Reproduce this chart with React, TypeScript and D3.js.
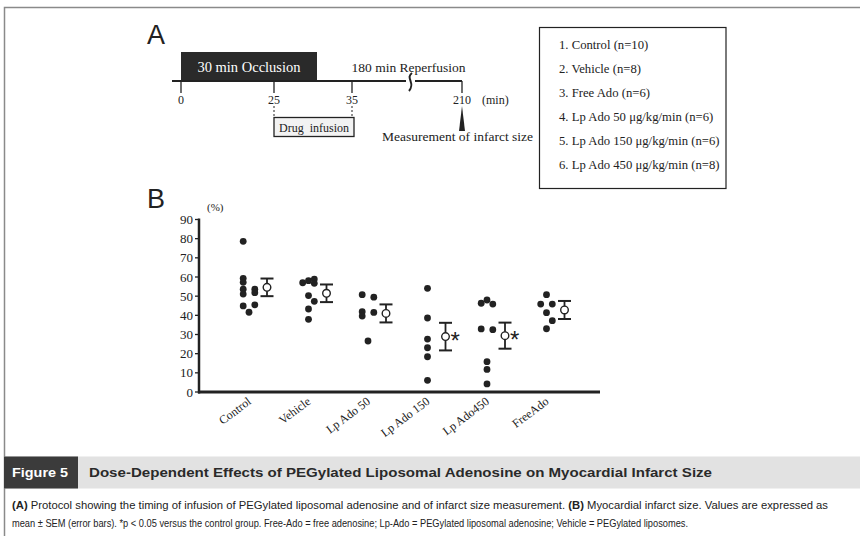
import React from "react";
import * as d3 from "d3";

// ---------- Data ----------
const groups = ["Control", "Vehicle", "Lp Ado 50", "Lp Ado 150", "Lp Ado450", "FreeAdo"];

const controlValues = [78.6, 59.3, 57.2, 53.6, 51.1, 44.9, 41.6, 53.6, 51.8, 45.5];
const controlCols = [-1, -1, -1, -1, -1, -1, 0, 1, 1, 1];
const vehicleValues = [57.0, 58.1, 58.9, 56.7, 50.3, 47.3, 43.3, 37.9];
const vehicleCols = [-1, 0, 1, 1, 0, 1, 0, 0];
const lp50Values = [50.8, 49.5, 41.9, 39.6, 41.5, 26.6];
const lp50Cols = [-1, 1, -1, -1, 1, 0];
const lp150Values = [54.1, 38.6, 27.6, 23.1, 18.4, 6.1];
const lp150Cols = [0, 0, 0, 0, 0, 0];
const lp450Values = [46.3, 48.0, 45.9, 32.9, 32.5, 15.8, 11.8, 4.2];
const lp450Cols = [-1, 0, 1, -1, 1, 0, 0, 0];
const freeAdoValues = [50.8, 45.9, 45.9, 41.4, 37.2, 33.0];
const freeAdoCols = [0, -1, 1, 0, 1, 0];

const groupValues = [controlValues, vehicleValues, lp50Values, lp150Values, lp450Values, freeAdoValues];
const groupCols = [controlCols, vehicleCols, lp50Cols, lp150Cols, lp450Cols, freeAdoCols];

const means = [54.6, 51.5, 41.0, 28.9, 29.4, 42.8];
const sems = [4.6, 4.6, 4.7, 7.2, 6.8, 4.7];
const significant = [false, false, false, true, true, false];

const yTicks = [0, 10, 20, 30, 40, 50, 60, 70, 80, 90];

const legendItems = [
  "1. Control (n=10)",
  "2. Vehicle (n=8)",
  "3. Free Ado (n=6)",
  "4. Lp Ado 50 \u03bcg/kg/min (n=6)",
  "5. Lp Ado 150 \u03bcg/kg/min (n=6)",
  "6. Lp Ado 450 \u03bcg/kg/min (n=8)",
];

const timeTicks = [0, 25, 35, 210];
const occlusionEnd = 30;
const infusionStart = 25;
const infusionEnd = 35;

const figureLabel = "Figure 5";
const figureTitle = "Dose-Dependent Effects of PEGylated Liposomal Adenosine on Myocardial Infarct Size";
const captionLine1 =
  "Protocol showing the timing of infusion of PEGylated liposomal adenosine and of infarct size measurement. ";
const captionLine1b = "Myocardial infarct size. Values are expressed as";
const captionLine2 =
  "mean \u00b1 SEM (error bars). *p < 0.05 versus the control group. Free-Ado = free adenosine; Lp-Ado = PEGylated liposomal adenosine; Vehicle = PEGylated liposomes.";

// ---------- Layout ----------
const W = 860;
const H = 536;
const serif = "'Liberation Serif', 'DejaVu Serif', serif";
const sans = "'Liberation Sans', Arial, sans-serif";
const ink = "#222";

export default function App() {
  // Panel B scales
  const y = d3.scaleLinear().domain([0, 90]).range([392, 219.5]);
  const x = d3.scalePoint<string>().domain(groups).range([249, 546.5]);
  const colStep = 5.8;
  const meanOffset = 18;

  // Panel A scale (broken time axis)
  const t = d3.scaleLinear().domain([0, 25, 35, 210]).range([181, 274, 352, 462]);
  const lineY = 81;

  return (
    <svg
      width={W}
      height={H}
      style={{ position: "absolute", left: 0, top: 0, background: "#fff" }}
      xmlns="http://www.w3.org/2000/svg"
    >
      <rect x={0} y={0} width={W} height={H} fill="#fff" />
      {/* outer frame */}
      <path d={`M4.5,${H} L4.5,7.5 L${W},7.5`} fill="none" stroke="#8a8a8a" strokeWidth={1.5} />

      {/* ---------------- Panel A ---------------- */}
      <text x={147} y={44} fontFamily={sans} fontSize={27} fill={ink}>A</text>
      <rect x={t(0)} y={52} width={t(occlusionEnd) - t(0) + 4} height={lineY - 52} fill="#2a2a2a" />
      <text x={(t(0) + t(occlusionEnd) + 4) / 2} y={72} textAnchor="middle" fontFamily={serif} fontSize={14.5} fill="#fff">
        30 min Occlusion
      </text>
      <line x1={172} x2={t(210)} y1={lineY} y2={lineY} stroke={ink} strokeWidth={2} />
      <text x={408.5} y={72} textAnchor="middle" fontFamily={serif} fontSize={13.5} fill={ink}>
        180 min Reperfusion
      </text>
      {/* break squiggle */}
      <rect x={406} y={77} width={9} height={8} fill="#fff" />
      <path d="M412,73 C405,78 416,83 409,91" fill="none" stroke={ink} strokeWidth={2} />
      {timeTicks.map((m) => (
        <g key={m}>
          <line x1={t(m)} x2={t(m)} y1={lineY} y2={93} stroke={ink} strokeWidth={1.3} />
          <text x={t(m)} y={104} textAnchor="middle" fontFamily={serif} fontSize={12} fill={ink}>
            {m}
          </text>
        </g>
      ))}
      <text x={482} y={104} fontFamily={serif} fontSize={12} fill={ink}>(min)</text>
      {[infusionStart, infusionEnd].map((m) => (
        <line key={m} x1={t(m)} x2={t(m)} y1={106} y2={117} stroke={ink} strokeWidth={1} strokeDasharray="2,2" />
      ))}
      <rect
        x={t(infusionStart)}
        y={117.5}
        width={t(infusionEnd) - t(infusionStart) + 2}
        height={19}
        fill="#f2f2f2"
        stroke={ink}
        strokeWidth={1.3}
      />
      <text x={(t(infusionStart) + t(infusionEnd) + 2) / 2} y={131.5} textAnchor="middle" fontFamily={serif} fontSize={12} fill={ink} style={{ whiteSpace: "pre" }}>
        {"Drug  infusion"}
      </text>
      <path d={`M${t(210)},106 L${t(210) - 3},131 L${t(210) + 3},131 Z`} fill={ink} />
      <text x={382} y={141} fontFamily={serif} fontSize={13.5} fill={ink}>Measurement of infarct size</text>

      {/* Legend box */}
      <rect x={539.5} y={27.5} width={186.5} height={161} fill="#fff" stroke={ink} strokeWidth={1.2} />
      {legendItems.map((s, i) => (
        <text key={s} x={559} y={48.5 + i * 24} fontFamily={serif} fontSize={12.7} fill={ink}>
          {s}
        </text>
      ))}

      {/* ---------------- Panel B ---------------- */}
      <text x={147} y={208} fontFamily={sans} fontSize={27} fill={ink}>B</text>
      <text x={207} y={211} fontFamily={serif} fontSize={11} fill={ink}>(%)</text>
      {/* y axis */}
      <line x1={199} x2={199} y1={y(90) - 1} y2={y(0) + 1.5} stroke={ink} strokeWidth={2.5} />
      {yTicks.map((v) => (
        <g key={v}>
          <line x1={195} x2={199} y1={y(v)} y2={y(v)} stroke={ink} strokeWidth={1.3} />
          <text x={193} y={y(v) + 4.5} textAnchor="end" fontFamily={serif} fontSize={13} fill={ink}>
            {v}
          </text>
        </g>
      ))}
      {/* x axis */}
      <line x1={198} x2={600} y1={y(0)} y2={y(0)} stroke={ink} strokeWidth={3} />
      {groups.map((g) => (
        <text
          key={g}
          transform={`translate(${(x(g) as number) + 3},${403}) rotate(-37)`}
          textAnchor="end"
          fontFamily={serif}
          fontSize={12}
          fill={ink}
        >
          {g}
        </text>
      ))}

      {/* individual points */}
      {groups.map((g, gi) =>
        groupValues[gi].map((v, i) => (
          <circle
            key={`${g}-${i}`}
            cx={(x(g) as number) + groupCols[gi][i] * colStep}
            cy={y(v)}
            r={3.4}
            fill={ink}
          />
        ))
      )}

      {/* mean ± SEM */}
      {groups.map((g, gi) => {
        const cx = (x(g) as number) + meanOffset;
        const top = y(means[gi] + sems[gi]);
        const bot = y(means[gi] - sems[gi]);
        return (
          <g key={`m-${g}`}>
            <line x1={cx} x2={cx} y1={top} y2={bot} stroke={ink} strokeWidth={1.8} />
            <line x1={cx - 6.5} x2={cx + 6.5} y1={top} y2={top} stroke={ink} strokeWidth={2} />
            <line x1={cx - 6.5} x2={cx + 6.5} y1={bot} y2={bot} stroke={ink} strokeWidth={2} />
            <circle cx={cx} cy={y(means[gi])} r={3.8} fill="#fff" stroke={ink} strokeWidth={1.4} />
            {significant[gi] && (
              <text x={cx + 5} y={y(means[gi]) + 12} fontFamily={sans} fontSize={24} fill={ink}>
                *
              </text>
            )}
          </g>
        );
      })}

      {/* ---------------- Figure caption ---------------- */}
      <rect x={4} y={456.5} width={W - 4} height={32} fill="#e2e2e2" />
      <rect x={4} y={456.5} width={74} height={32} fill="#3b3b3b" />
      <text x={12} y={477} fontFamily={sans} fontSize={13} fontWeight="bold" fill="#fff" textLength={56} lengthAdjust="spacingAndGlyphs">
        {figureLabel}
      </text>
      <text x={89} y={477} fontFamily={sans} fontSize={13.5} fontWeight="bold" fill="#2a2a2a" textLength={623} lengthAdjust="spacingAndGlyphs">
        {figureTitle}
      </text>
      <text x={12} y={509} fontFamily={sans} fontSize={11} fill={ink} textLength={816} lengthAdjust="spacingAndGlyphs">
        <tspan fontWeight="bold">(A)</tspan> {captionLine1}
        <tspan fontWeight="bold">(B)</tspan> {captionLine1b}
      </text>
      <text x={12} y={527} fontFamily={sans} fontSize={11.5} fill={ink} textLength={676} lengthAdjust="spacingAndGlyphs">
        {captionLine2}
      </text>
    </svg>
  );
}
